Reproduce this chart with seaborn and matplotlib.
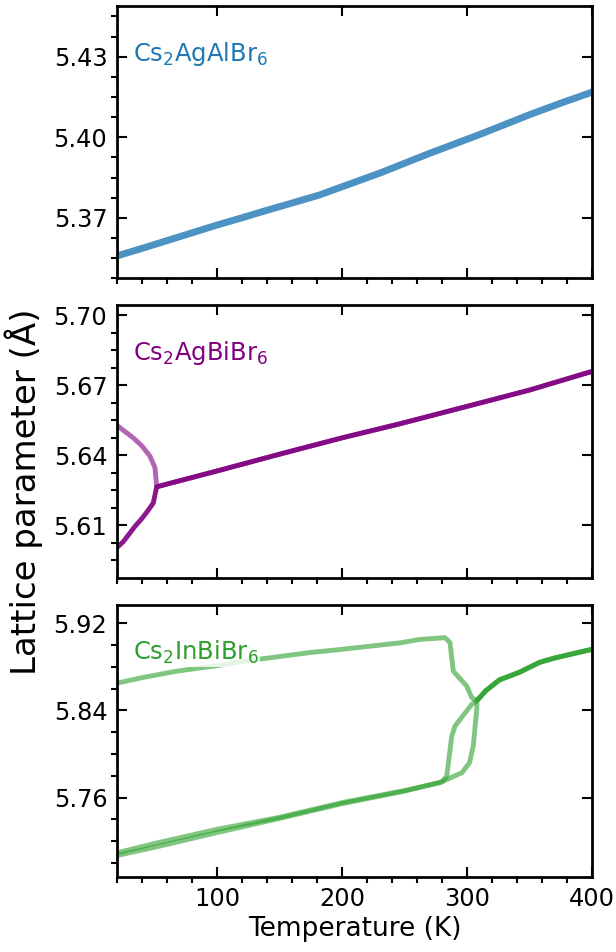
import numpy as np
import pandas as pd
import matplotlib
matplotlib.use('Agg')
import matplotlib.pyplot as plt
import seaborn as sns
from matplotlib.ticker import MultipleLocator, AutoMinorLocator, FormatStrFormatter

# Cs2AgAlBr6
al_T = [20, 40, 60, 80, 100, 120, 140, 160, 182, 205, 230, 250, 270, 290, 310, 330, 350, 375, 400]
al_a = [5.3558, 5.3586, 5.3615, 5.3644, 5.3673, 5.3700, 5.3728, 5.3755, 5.3785, 5.3824,
        5.3866, 5.3903, 5.3940, 5.3975, 5.4010, 5.4047, 5.4084, 5.4127, 5.4168]

# Cs2AgBiBr6 - shared high-T branch and the two low-T branches
bi_main_T = [51.7, 60, 80, 100, 150, 200, 246, 300, 350, 400]
bi_main_a = [5.6265, 5.6277, 5.6305, 5.6333, 5.6405, 5.6475, 5.6535, 5.6610, 5.6680, 5.6760]
bi_low_T = [20, 25, 30, 34.4, 40, 45, 49]
bi_low_a = [5.6005, 5.6030, 5.6065, 5.6096, 5.6130, 5.6165, 5.6196]
bi_up_T = [20, 21, 33, 40, 46.4, 50.4]
bi_up_a = [5.6528, 5.6524, 5.6475, 5.6440, 5.6396, 5.6346]

# Cs2InBiBr6 - high-T branch shared by all runs
in_hi_T = [308, 315, 326, 342, 358, 370, 385, 400]
in_hi_a = [5.849, 5.858, 5.868, 5.875, 5.884, 5.888, 5.892, 5.896]
# run 1 (heating)
in_h1_T = [20, 50, 100, 150, 200, 250, 278, 296, 302, 305, 307.8]
in_h1_a = [5.7095, 5.7180, 5.7310, 5.7420, 5.7555, 5.7665, 5.7737, 5.7829, 5.7920, 5.8073, 5.8410]
# run 2 (heating)
in_h2_T = [20, 50, 100, 150, 200, 250, 280, 283.8, 287.8, 290.4, 303.8]
in_h2_a = [5.7070, 5.7145, 5.7280, 5.7410, 5.7545, 5.7660, 5.7745, 5.7798, 5.8164, 5.8256, 5.8455]
# cooling run (from 308 K down)
in_c_T = [303.8, 299.8, 289, 286.4, 282.4, 262, 247, 200, 174, 121, 100, 68, 40, 20]
in_c_a = [5.8516, 5.8623, 5.8760, 5.9021, 5.9067, 5.9050, 5.9020, 5.8960, 5.8930, 5.8850, 5.8810, 5.8760, 5.8700, 5.8650]

blue = '#1f77b4'
purple = '#800080'
green = '#2ca02c'

plt.rcParams['font.family'] = ['DejaVu Sans']
plt.rcParams['mathtext.default'] = 'regular'

fig, axes = plt.subplots(3, 1, sharex=True, figsize=(6.16, 9.52), dpi=100)
plt.subplots_adjust(left=0.19, right=0.961, top=0.9937, bottom=0.0788, hspace=0.1)

# panel 1
df_al = pd.DataFrame({'T': al_T, 'a': al_a})
sns.lineplot(data=df_al, x='T', y='a', ax=axes[0], color=blue, lw=5, alpha=0.8,
             sort=False, estimator=None, legend=False)

# panel 2
df_bi_dark = pd.DataFrame({'T': bi_low_T + bi_main_T, 'a': bi_low_a + bi_main_a})
df_bi_light = pd.DataFrame({'T': bi_up_T + bi_main_T, 'a': bi_up_a + bi_main_a})
sns.lineplot(data=df_bi_light, x='T', y='a', ax=axes[1], color=purple, lw=3.5, alpha=0.6,
             sort=False, estimator=None, legend=False)
sns.lineplot(data=df_bi_dark, x='T', y='a', ax=axes[1], color=purple, lw=3.5, alpha=0.9,
             sort=False, estimator=None, legend=False)

# panel 3
runs = [
    (in_h1_T + in_hi_T, in_h1_a + in_hi_a),
    (in_h2_T + in_hi_T, in_h2_a + in_hi_a),
    (in_hi_T[::-1] + in_c_T, in_hi_a[::-1] + in_c_a),
]
for t, a in runs:
    df = pd.DataFrame({'T': t, 'a': a})
    sns.lineplot(data=df, x='T', y='a', ax=axes[2], color=green, lw=3.5, alpha=0.6,
                 sort=False, estimator=None, legend=False)

labels = ['Cs$_2$AgAlBr$_6$', 'Cs$_2$AgBiBr$_6$', 'Cs$_2$InBiBr$_6$']
colors = [blue, purple, green]
ylims = [(5.3475, 5.4489), (5.5876, 5.7043), (5.6873, 5.9368)]
steps = [0.03, 0.03, 0.08]

for ax, lab, c, yl, st in zip(axes, labels, colors, ylims, steps):
    ax.set_xlim(20, 400)
    ax.set_ylim(*yl)
    ax.yaxis.set_major_locator(MultipleLocator(st))
    ax.yaxis.set_minor_locator(AutoMinorLocator(4))
    ax.yaxis.set_major_formatter(FormatStrFormatter('%.2f'))
    ax.xaxis.set_major_locator(MultipleLocator(100))
    ax.xaxis.set_minor_locator(AutoMinorLocator(5))
    ax.tick_params(which='major', direction='in', length=7, width=1.5,
                   top=True, right=True, labelsize=17.3, pad=7)
    ax.tick_params(which='minor', direction='out', length=4, width=1.5,
                   top=False, right=False)
    for s in ax.spines.values():
        s.set_linewidth(2)
    ax.set_xlabel('')
    ax.set_ylabel('')
    ax.text(0.034, 0.825, lab, transform=ax.transAxes, color=c, fontsize=17.5,
            ha='left', va='center',
            bbox=dict(facecolor='white', edgecolor='none', alpha=0.8, pad=1))

axes[2].set_xlabel('Temperature (K)', fontsize=19, labelpad=4)
fig.text(0.039, 0.483, 'Lattice parameter (Å)', rotation=90, fontsize=24.5,
         ha='center', va='center')

fig.savefig('out.png', dpi=100)
